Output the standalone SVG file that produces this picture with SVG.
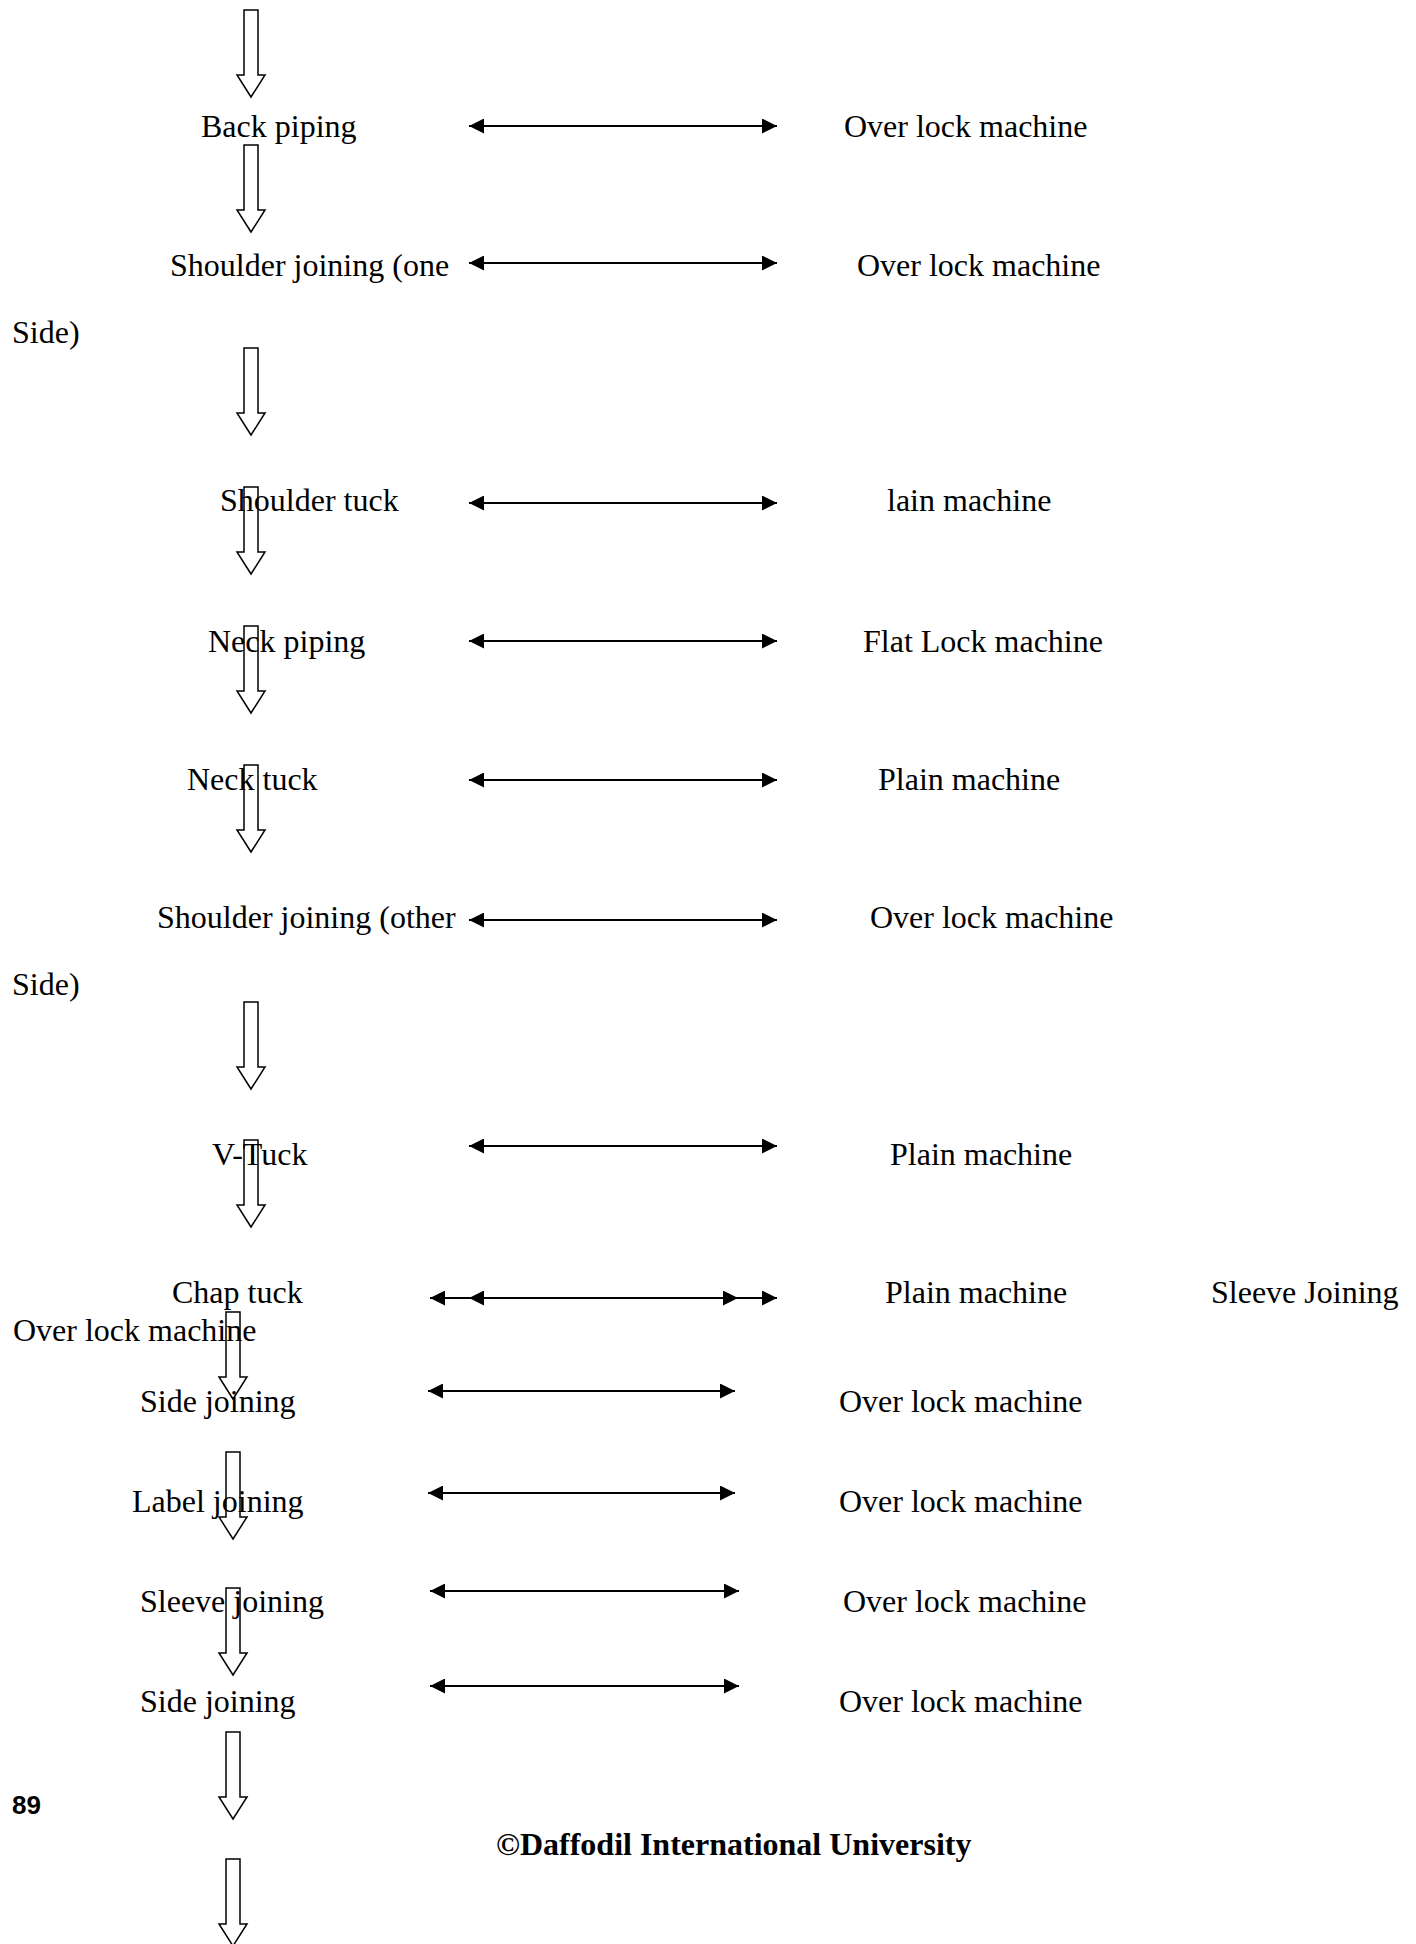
<svg xmlns="http://www.w3.org/2000/svg" width="1416" height="1944" viewBox="0 0 1416 1944">
  <style>
    .t { font-family: "Liberation Serif", "Times New Roman", serif; font-size: 32px; fill: #000; }
    .b { font-weight: bold; }
    .pg { font-family: "Liberation Sans", Arial, sans-serif; font-size: 26px; font-weight: bold; fill: #000; }
    .link { stroke: #000; stroke-width: 2; fill: none; marker-start: url(#head); marker-end: url(#head); }
    .flow { fill: none; stroke: #000; stroke-width: 1.5; stroke-linejoin: miter; }
  </style>
  <defs>
    <marker id="head" markerUnits="userSpaceOnUse" markerWidth="15" markerHeight="15" viewBox="0 0 15 15" refX="15" refY="7.5" orient="auto-start-reverse">
      <path d="M0,0 L15,7.5 L0,15 Z" fill="#000"/>
    </marker>
    <!-- hollow down arrow, origin at top centre of the shaft -->
    <path id="down" d="M-7,0 H7 V65 H14 L0,87 L-14,65 H-7 Z"/>
  </defs>
  <rect width="1416" height="1944" fill="#fff"/>

  <!-- process steps -->
  <g id="step-back-piping"><text class="t" x="201" y="137">Back piping</text></g>
  <g id="step-shoulder-joining-one"><text class="t" x="170" y="276">Shoulder joining (one</text><text class="t" x="12" y="343">Side)</text></g>
  <g id="step-shoulder-tuck"><text class="t" x="220" y="511">Shoulder tuck</text></g>
  <g id="step-neck-piping"><text class="t" x="208" y="652">Neck piping</text></g>
  <g id="step-neck-tuck"><text class="t" x="187" y="790">Neck tuck</text></g>
  <g id="step-shoulder-joining-other"><text class="t" x="157" y="928">Shoulder joining (other</text><text class="t" x="12" y="995">Side)</text></g>
  <g id="step-v-tuck"><text class="t" x="212" y="1165">V-Tuck</text></g>
  <g id="step-chap-tuck"><text class="t" x="172" y="1303">Chap tuck</text></g>
  <g id="step-side-joining-1"><text class="t" x="140" y="1412">Side joining</text></g>
  <g id="step-label-joining"><text class="t" x="132" y="1512">Label joining</text></g>
  <g id="step-sleeve-joining"><text class="t" x="140" y="1612">Sleeve joining</text></g>
  <g id="step-side-joining-2"><text class="t" x="140" y="1712">Side joining</text></g>

  <!-- machines -->
  <g id="m-back-piping"><text class="t" x="844" y="137">Over lock machine</text></g>
  <g id="m-shoulder-joining-one"><text class="t" x="857" y="276">Over lock machine</text></g>
  <g id="m-shoulder-tuck"><text class="t" x="887" y="511">lain machine</text></g>
  <g id="m-neck-piping"><text class="t" x="863" y="652">Flat Lock machine</text></g>
  <g id="m-neck-tuck"><text class="t" x="878" y="790">Plain machine</text></g>
  <g id="m-shoulder-joining-other"><text class="t" x="870" y="928">Over lock machine</text></g>
  <g id="m-v-tuck"><text class="t" x="890" y="1165">Plain machine</text></g>
  <g id="m-chap-tuck"><text class="t" x="885" y="1303">Plain machine</text></g>
  <g id="m-sleeve-joining-extra"><text class="t" x="1211" y="1303">Sleeve Joining</text><text class="t" x="13" y="1341">Over lock machine</text></g>
  <g id="m-side-joining-1"><text class="t" x="839" y="1412">Over lock machine</text></g>
  <g id="m-label-joining"><text class="t" x="839" y="1512">Over lock machine</text></g>
  <g id="m-sleeve-joining"><text class="t" x="843" y="1612">Over lock machine</text></g>
  <g id="m-side-joining-2"><text class="t" x="839" y="1712">Over lock machine</text></g>

  <!-- page footer -->
  <g id="footer">
    <text class="pg" x="12" y="1814">89</text>
    <text class="t b" x="496" y="1855">©Daffodil International University</text>
  </g>

  <!-- connectors -->
  <g id="connectors">
    <g id="links">
      <line class="link" x1="469" y1="126" x2="777" y2="126"/>
      <line class="link" x1="469" y1="263" x2="777" y2="263"/>
      <line class="link" x1="469" y1="503" x2="777" y2="503"/>
      <line class="link" x1="469" y1="641" x2="777" y2="641"/>
      <line class="link" x1="469" y1="780" x2="777" y2="780"/>
      <line class="link" x1="469" y1="920" x2="777" y2="920"/>
      <line class="link" x1="469" y1="1146" x2="777" y2="1146"/>
      <line class="link" x1="430" y1="1298" x2="777" y2="1298"/>
      <line class="link" x1="469" y1="1298" x2="738" y2="1298" stroke-width="3"/>
      <line class="link" x1="428" y1="1391" x2="735" y2="1391"/>
      <line class="link" x1="428" y1="1493" x2="735" y2="1493"/>
      <line class="link" x1="430" y1="1591" x2="739" y2="1591"/>
      <line class="link" x1="430" y1="1686" x2="739" y2="1686"/>
    </g>
    <g id="flow">
      <use href="#down" class="flow" x="251" y="10"/>
      <use href="#down" class="flow" x="251" y="145"/>
      <use href="#down" class="flow" x="251" y="348"/>
      <use href="#down" class="flow" x="251" y="487"/>
      <use href="#down" class="flow" x="251" y="626"/>
      <use href="#down" class="flow" x="251" y="765"/>
      <use href="#down" class="flow" x="251" y="1002"/>
      <use href="#down" class="flow" x="251" y="1140"/>
      <use href="#down" class="flow" x="233" y="1312"/>
      <use href="#down" class="flow" x="233" y="1452"/>
      <use href="#down" class="flow" x="233" y="1588"/>
      <use href="#down" class="flow" x="233" y="1732"/>
      <use href="#down" class="flow" x="233" y="1859"/>
    </g>
  </g>
</svg>
